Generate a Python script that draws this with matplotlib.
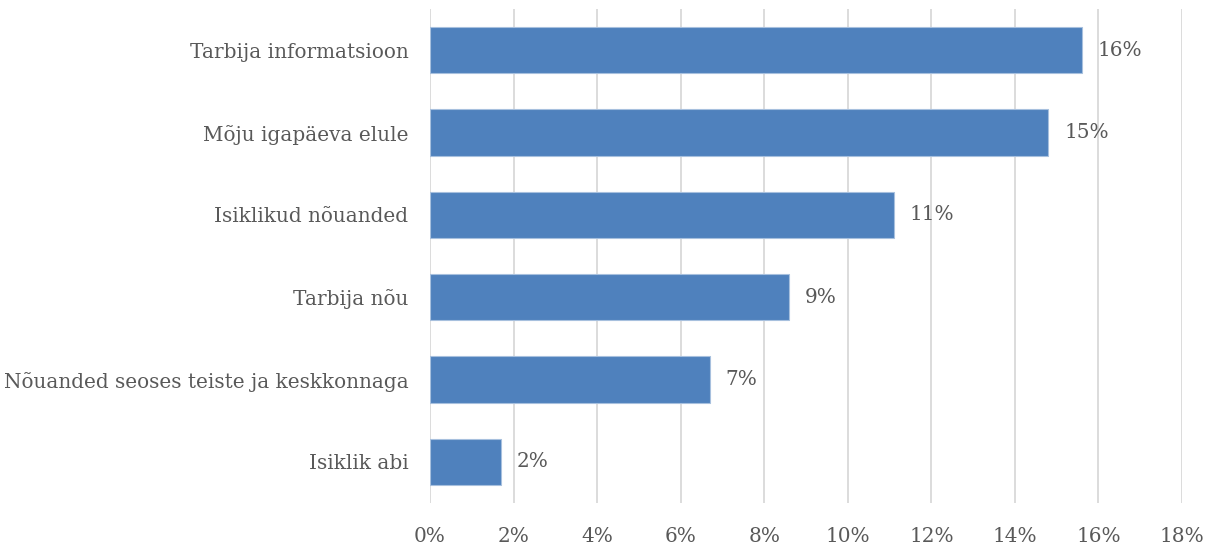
import matplotlib
matplotlib.use("Agg")
import matplotlib.pyplot as plt
from matplotlib.ticker import FuncFormatter

categories = ["Tarbija informatsioon", "Mõju igapäeva elule", "Isiklikud nõuanded",
              "Tarbija nõu", "Nõuanded seoses teiste ja keskkonnaga", "Isiklik abi"]
values = [15.6, 14.8, 11.1, 8.6, 6.7, 1.7]
labels = ["16%", "15%", "11%", "9%", "7%", "2%"]
xticks = [0, 2, 4, 6, 8, 10, 12, 14, 16, 18]

plt.rcParams['font.family'] = ['DejaVu Serif']
txt = '#595959'
fs = 14.4

fig = plt.figure(figsize=(12.09, 5.44), dpi=100)
ax = fig.add_axes([430/1209, 1 - 503/544, (1182-430)/1209, (503-9)/544])

y = list(range(len(categories)))
ax.barh(y, values, height=0.56, color='#4F81BD', edgecolor='#A7C0DE', linewidth=0.8, zorder=3)
for yi, v, l in zip(y, values, labels):
    ax.text(v + 0.38, yi, l, va='center', ha='left', fontsize=fs, color=txt)

ax.set_xlim(0, 18)
ax.set_ylim(5.5, -0.5)
ax.set_xticks(xticks)
ax.xaxis.set_major_formatter(FuncFormatter(lambda v, p: f"{v:.0f}%"))
ax.set_yticks(y)
ax.set_yticklabels(categories)
ax.tick_params(axis='both', length=0, labelsize=fs, colors=txt)
ax.tick_params(axis='x', pad=17)
ax.tick_params(axis='y', pad=15.5)
ax.grid(axis='x', color='#D9D9D9', linewidth=1.3, zorder=0)
for s in ax.spines.values():
    s.set_visible(False)

fig.savefig("out.png", dpi=100)
